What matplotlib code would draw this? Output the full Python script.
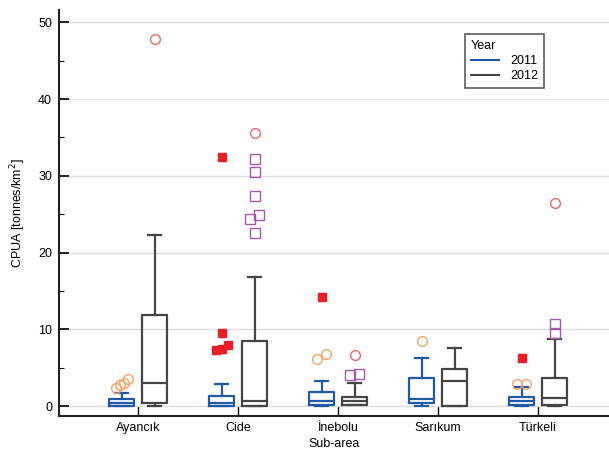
import matplotlib
matplotlib.use("Agg")
import matplotlib.pyplot as plt
from matplotlib.lines import Line2D
import numpy as np

plt.rcParams['font.family'] = ['Liberation Sans', 'DejaVu Sans']

# Sub-areas and survey years
sub_areas = ["Ayancık", "Cide", "İnebolu", "Sarıkum", "Türkeli"]
years = ["2011", "2012"]

# Box summaries per year: whisker low, Q1, median, Q3, whisker high (tonnes/km2)
whislo_2011 = [0.0, 0.0, 0.0, 0.04, 0.0]
q1_2011 = [0.0, 0.04, 0.1, 0.43, 0.1]
med_2011 = [0.43, 0.43, 0.6, 0.9, 0.65]
q3_2011 = [0.87, 1.3, 1.78, 3.6, 1.2]
whishi_2011 = [1.65, 2.86, 3.3, 6.2, 2.5]

whislo_2012 = [0.0, 0.0, 0.1, 0.04, 0.0]
q1_2012 = [0.35, 0.0, 0.1, 0.04, 0.1]
med_2012 = [2.95, 0.7, 0.65, 3.25, 1.0]
q3_2012 = [11.9, 8.46, 1.2, 4.8, 3.7]
whishi_2012 = [22.3, 16.8, 2.95, 7.6, 8.7]

# Outside values (circles) and far-out values (squares)
outside_2011 = [[2.4, 2.7, 2.95, 3.5], [], [6.1, 6.8], [8.5], [2.86, 2.86]]
farout_2011 = [[], [7.3, 7.4, 7.9, 9.45, 32.4], [14.2], [], [6.2]]
outside_2012 = [[47.8], [35.6], [6.6], [], [26.4]]
farout_2012 = [[], [22.6, 24.4, 24.9, 27.4, 30.5, 32.2], [4.1, 4.2], [], [9.5, 10.7]]

BLUE = "#1f5aa6"
GRAY = "#454545"
ORANGE_C = "#f3a263"
RED_C = "#e06a6a"
RED_S = "#ee1c24"
PURPLE_S = "#a45aa8"
FS = 9

fig = plt.figure(figsize=(6.09, 4.5), dpi=100)
ax = fig.add_axes([59 / 609, 34 / 450, 550 / 609, 406 / 450])
ax.set_xlim(-0.79, 4.71)
ax.set_ylim(-1.3, 51.6)

ax.yaxis.grid(True, color="#dedede", linewidth=1.0, zorder=0)
ax.set_axisbelow(True)

offset = 0.165
width = 0.245
x = np.arange(len(sub_areas))


def stats_for(lo, q1, med, q3, hi):
    return [dict(whislo=a, q1=b, med=c, q3=d, whishi=e, fliers=[])
            for a, b, c, d, e in zip(lo, q1, med, q3, hi)]


for st, pos, col in [
    (stats_for(whislo_2011, q1_2011, med_2011, q3_2011, whishi_2011), x - offset, BLUE),
    (stats_for(whislo_2012, q1_2012, med_2012, q3_2012, whishi_2012), x + offset, GRAY),
]:
    ax.bxp(st, positions=pos, widths=width, showfliers=False,
           boxprops=dict(color=col, linewidth=1.6),
           medianprops=dict(color=col, linewidth=1.6),
           whiskerprops=dict(color=col, linewidth=1.6),
           capprops=dict(color=col, linewidth=1.6),
           capwidths=width * 0.55, manage_ticks=False)

# pixel scale, used to nudge overlapping outlier markers sideways
fig.canvas.draw()
px_x = ax.transData.transform((1, 0))[0] - ax.transData.transform((0, 0))[0]
px_y = ax.transData.transform((0, 1))[1] - ax.transData.transform((0, 0))[1]


def spread(values, size_px=8.0):
    """Group markers that would overlap vertically and fan them out sideways."""
    vs = sorted(values)
    clusters = [[vs[0]]]
    for v in vs[1:]:
        if (v - clusters[-1][-1]) * px_y < size_px:
            clusters[-1].append(v)
        else:
            clusters.append([v])
    offs = []
    for c in clusters:
        n = len(c)
        if n == 1:
            offs.append(0.0)
            continue
        total = min(9.0 * (n - 1), 12.0)
        step = total / (n - 1)
        for k in range(n):
            offs.append((k - (n - 1) / 2) * step / px_x)
    return vs, offs


def draw_points(groups, shift, marker, face, edge, ms):
    for i, vals in enumerate(groups):
        if not vals:
            continue
        vs, offs = spread(vals)
        ax.plot(i + shift + np.array(offs), vs, linestyle="none", marker=marker,
                markersize=ms, markerfacecolor=face, markeredgecolor=edge,
                markeredgewidth=1.0, zorder=3)


draw_points(outside_2011, -offset, "o", "none", ORANGE_C, 7)
draw_points(farout_2011, -offset, "s", RED_S, RED_S, 6)
draw_points(outside_2012, offset, "o", "none", RED_C, 7)
draw_points(farout_2012, offset, "s", "none", PURPLE_S, 6.5)

# axes styling
for side in ("top", "right"):
    ax.spines[side].set_visible(False)
for side in ("left", "bottom"):
    ax.spines[side].set_linewidth(1.5)
    ax.spines[side].set_color("#222222")

ax.set_yticks(np.arange(0, 51, 10))
ax.set_yticks(np.arange(5, 51, 10), minor=True)
ax.set_xticks(x)
ax.set_xticklabels(sub_areas)
ax.tick_params(axis="y", which="major", direction="in", length=7, width=1.2,
               labelsize=FS, pad=5)
ax.tick_params(axis="y", which="minor", direction="in", length=3.5, width=0.8)
ax.tick_params(axis="x", which="major", direction="in", length=7, width=1.0,
               labelsize=FS, pad=4)

ax.set_ylabel("CPUA [tonnes/km$^2$]", fontsize=FS, labelpad=7)
ax.set_xlabel("Sub-area", fontsize=FS, labelpad=3)

handles = [Line2D([0], [0], color=BLUE, linewidth=1.5),
           Line2D([0], [0], color=GRAY, linewidth=1.5)]
leg = ax.legend(handles, years, title="Year", loc="upper left",
                bbox_to_anchor=(0.738, 0.94), fontsize=FS, title_fontsize=FS,
                frameon=True, fancybox=False, handlelength=2.3,
                borderpad=0.45, labelspacing=0.25, handletextpad=0.9,
                borderaxespad=0.0)
leg._legend_box.align = "left"
leg.get_frame().set_edgecolor("#333333")
leg.get_frame().set_linewidth(1.2)

fig.savefig("out.png", dpi=100)
